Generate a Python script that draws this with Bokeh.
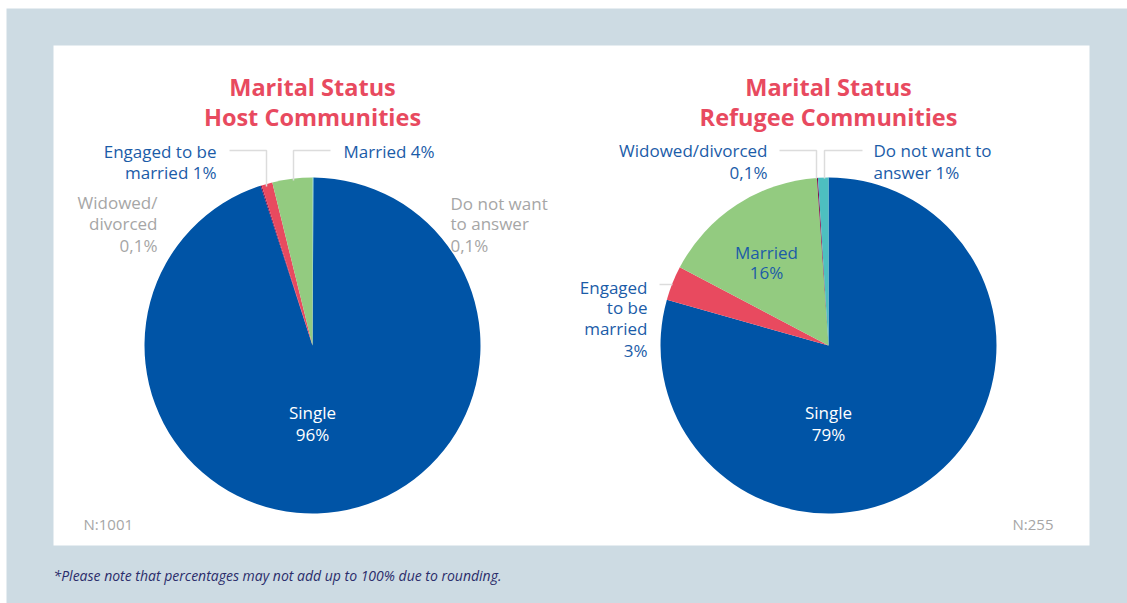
import numpy as np
from bokeh.plotting import figure
from bokeh.models import Range1d, ColumnDataSource
from bokeh.core.properties import value
from bokeh.embed import file_html
from bokeh.resources import INLINE

W, H = 1127, 603

# ---------------- data ----------------
host_categories = ["Do not want to answer", "Single", "Widowed/divorced", "Engaged to be married", "Married"]
host_values = [0.1, 95.0, 0.1, 1.05, 3.85]
host_n = "N:1001"

refugee_categories = ["Single", "Engaged to be married", "Married", "Widowed/divorced", "Do not want to answer"]
refugee_values = [79.4, 3.3, 16.2, 0.1, 1.0]
refugee_n = "N:255"

palette = {
    "Single": "#0054a6",
    "Engaged to be married": "#e84a5f",
    "Married": "#93cb80",
    "Widowed/divorced": "#7b0046",
    "Do not want to answer": "#4dbfc0",
}

title_line1 = "Marital Status"
host_title = "Host Communities"
refugee_title = "Refugee Communities"
footnote = "*Please note that percentages may not add up to 100% due to rounding."

FONT = "Open Sans"
BLUE_TXT = "#1b5ca8"
GRAY_TXT = "#a6a6a6"
TITLE_C = "#e84a5f"
LBL = "17px"

p = figure(width=W, height=H, output_backend="svg", toolbar_location=None,
           x_range=Range1d(0, W), y_range=Range1d(0, H), min_border=0)
p.axis.visible = False
p.grid.visible = False
p.outline_line_color = None
p.background_fill_color = "white"
p.border_fill_color = "white"

def Y(py):
    return H - py

# background panels
p.quad(left=6, right=W, bottom=Y(H), top=Y(8), fill_color="#cddbe3", line_color=None)
p.quad(left=53, right=1089, bottom=Y(545), top=Y(45), fill_color="white", line_color=None)

R = 168

def pie(cx, cy, cats, vals):
    v = np.array(vals, dtype=float)
    v = v / v.sum()
    cum = np.concatenate([[0.0], np.cumsum(v)])
    src = ColumnDataSource(dict(
        start=np.pi / 2 - cum[1:] * 2 * np.pi,
        end=np.pi / 2 - cum[:-1] * 2 * np.pi,
        color=[palette[c] for c in cats],
    ))
    p.wedge(x=cx, y=Y(cy), radius=R, start_angle="start", end_angle="end",
            fill_color="color", line_color=None, direction="anticlock", source=src)

def txt(x, py, s, align="left", color=BLUE_TXT, size=LBL, style="normal"):
    p.text(x=[x], y=[Y(py)], text=[s], text_align=align, text_baseline="middle",
           text_color=color, text_font_size=size, text_font=value(FONT),
           text_font_style=style)

def leader(xs, ys):
    p.line(x=xs, y=[Y(v) for v in ys], line_color="#dcdcdc", line_width=1.5)

# ---------------- host pie ----------------
HX, HY = 312, 345
pie(HX, HY, host_categories, host_values)
txt(HX, 86, title_line1, "center", TITLE_C, "23.5px", "bold")
txt(HX, 116, host_title, "center", TITLE_C, "23.5px", "bold")
leader([229, 266, 266], [150, 150, 186])
leader([330, 293, 293], [150, 150, 180])
txt(216, 151, "Engaged to be", "right")
txt(216, 172, "married 1%", "right")
txt(343, 151, "Married 4%", "left")
txt(157, 202, "Widowed/", "right", GRAY_TXT)
txt(157, 223, "divorced", "right", GRAY_TXT)
txt(157, 245, "0,1%", "right", GRAY_TXT)
txt(450, 203, "Do not want", "left", GRAY_TXT)
txt(450, 223, "to answer", "left", GRAY_TXT)
txt(450, 245, " 0,1%", "left", GRAY_TXT)
txt(HX, 412, "Single", "center", "white")
txt(HX, 434, "96%", "center", "white")
txt(83, 523, host_n, "left", GRAY_TXT, "15px")

# ---------------- refugee pie ----------------
RX, RY = 828, 345
pie(RX, RY, refugee_categories, refugee_values)
txt(RX, 86, title_line1, "center", TITLE_C, "23.5px", "bold")
txt(RX, 116, refugee_title, "center", TITLE_C, "23.5px", "bold")
leader([779, 816, 816], [150, 150, 178])
leader([862, 824, 824], [150, 150, 178])
leader([659, 672], [284, 284])
txt(767, 150, "Widowed/divorced", "right")
txt(767, 172, "0,1%", "right")
txt(873, 150, "Do not want to", "left")
txt(873, 172, "answer 1%", "left")
txt(766, 252, "Married", "center")
txt(766, 272, "16%", "center")
txt(647, 287, "Engaged", "right")
txt(647, 307, "to be", "right")
txt(647, 328, "married", "right")
txt(647, 350, "3%", "right")
txt(RX, 412, "Single", "center", "white")
txt(RX, 434, "79%", "center", "white")
txt(1053, 523, refugee_n, "right", GRAY_TXT, "15px")

# footnote
txt(53, 575, footnote, "left", "#2b2d6b", "14px", "italic")

open("out.html", "w").write(file_html(p, INLINE))
